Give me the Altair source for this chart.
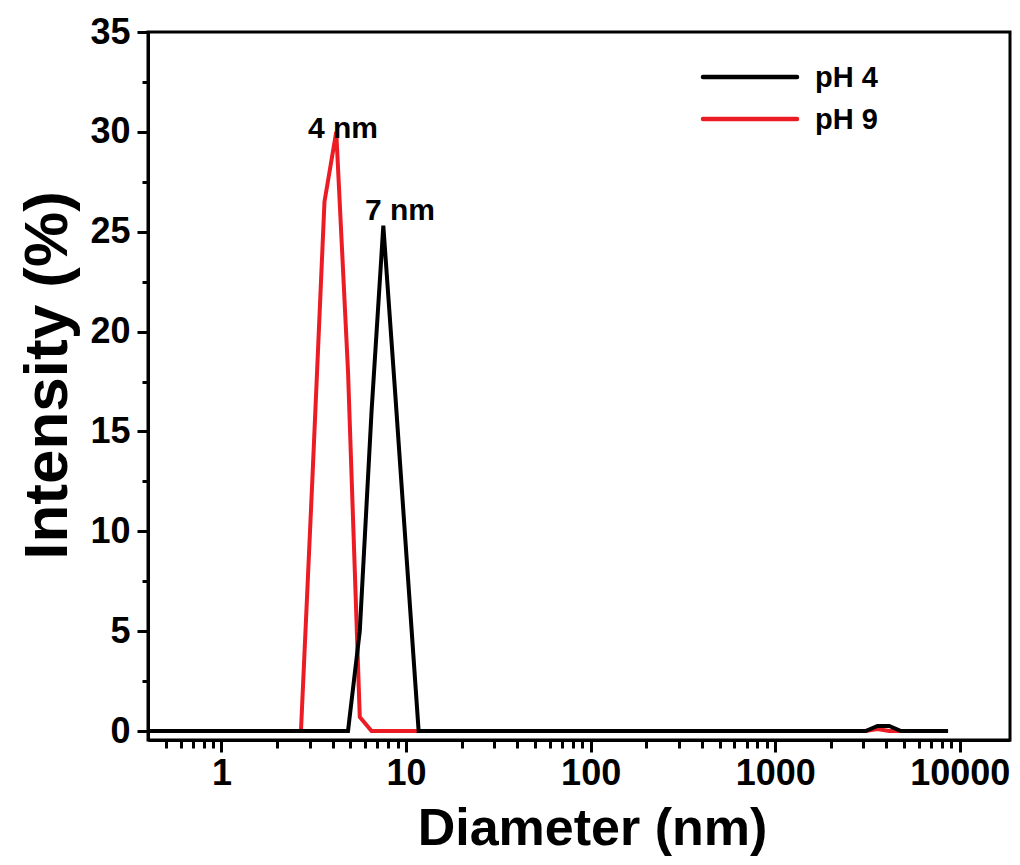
import altair as alt
import pandas as pd

FONT = "Liberation Sans"

series_names = ["pH 4", "pH 9"]
series_colors = ["#000000", "#ec1c24"]

# pH 4 (black)
ph4_diameter = [0.4, 4.849, 5.615, 6.503, 7.531, 8.721, 10.1, 11.7, 3091, 3580, 4145, 4801, 8635]
ph4_intensity = [0, 0, 5.0, 16.0, 25.3, 17.0, 8.5, 0, 0, 0.25, 0.25, 0, 0]

# pH 9 (red)
ph9_diameter = [0.4, 2.696, 3.122, 3.615, 4.187, 4.849, 5.615, 6.503, 3091, 3580, 4145, 8635]
ph9_intensity = [0, 0, 13.0, 26.5, 30.0, 18.0, 0.7, 0, 0, 0.1, 0, 0]

peak_labels = ["4 nm", "7 nm"]
peak_label_x = [4.55, 9.27]
peak_label_y = [29.7, 25.6]

x_major = [1, 10, 100, 1000, 10000]
x_minor = [0.5, 0.6, 0.7, 0.8, 0.9,
           2, 3, 4, 5, 6, 7, 8, 9,
           20, 30, 40, 50, 60, 70, 80, 90,
           200, 300, 400, 500, 600, 700, 800, 900,
           2000, 3000, 4000, 5000, 6000, 7000, 8000, 9000]
y_major = [0, 5, 10, 15, 20, 25, 30, 35]
y_minor = [2.5, 7.5, 12.5, 17.5, 22.5, 27.5, 32.5]

df4 = pd.DataFrame({"d": ph4_diameter, "i": ph4_intensity})
df9 = pd.DataFrame({"d": ph9_diameter, "i": ph9_intensity})
dflab = pd.DataFrame({"d": peak_label_x, "i": peak_label_y, "t": peak_labels})

xscale = alt.Scale(type="log", domain=[0.4, 18700], nice=False)
yscale = alt.Scale(domain=[-0.45, 35], nice=False, zero=False)

major_x_axis = alt.Axis(
    values=x_major, format="d", orient="bottom", grid=False,
    tickSize=12, tickWidth=3, tickColor="black",
    domainWidth=3, domainColor="black",
    labelFont=FONT, labelFontSize=36, labelFontWeight="bold", labelColor="black",
    labelPadding=4, labelFlush=False,
    title="Diameter (nm)", titleFont=FONT, titleFontSize=52, titleFontWeight="bold",
    titleColor="black", titleX=444, titleY=104, titleBaseline="alphabetic",
    titleAlign="center",
)
minor_x_axis = alt.Axis(
    values=x_minor, orient="bottom", grid=False, labels=False, domain=False,
    tickSize=8, tickWidth=3, tickColor="black", title=None,
)
major_y_axis = alt.Axis(
    values=y_major, format="d", orient="left", grid=False,
    tickSize=11, tickWidth=3, tickColor="black",
    domainWidth=3, domainColor="black",
    labelFont=FONT, labelFontSize=36, labelFontWeight="bold", labelColor="black",
    labelPadding=7,
    title="Intensity (%)", titleFont=FONT, titleFontSize=62, titleFontWeight="bold",
    titleColor="black", titleX=-82, titleY=343, titleBaseline="alphabetic",
    titleAlign="center", titleAngle=270,
)
minor_y_axis = alt.Axis(
    values=y_minor, orient="left", grid=False, labels=False, domain=False,
    tickSize=6, tickWidth=3, tickColor="black", title=None,
)

red_line = alt.Chart(df9).mark_line(color=series_colors[1], strokeWidth=4).encode(
    x=alt.X("d:Q", scale=xscale, axis=major_x_axis),
    y=alt.Y("i:Q", scale=yscale, axis=major_y_axis),
)
minor = alt.Chart(df9).mark_point(opacity=0).encode(
    x=alt.X("d:Q", scale=xscale, axis=minor_x_axis),
    y=alt.Y("i:Q", scale=yscale, axis=minor_y_axis),
)
black_line = alt.Chart(df4).mark_line(color=series_colors[0], strokeWidth=4).encode(
    x=alt.X("d:Q", scale=xscale, axis=None),
    y=alt.Y("i:Q", scale=yscale, axis=None),
)
labels = alt.Chart(dflab).mark_text(
    font=FONT, fontSize=30, fontWeight="bold", color="black",
    align="center", baseline="alphabetic",
).encode(
    x=alt.X("d:Q", scale=xscale, axis=None),
    y=alt.Y("i:Q", scale=yscale, axis=None),
    text="t:N",
)

legend_layers = []
legend_rows = [45, 87]
for name, color, yy in zip(series_names, series_colors, legend_rows):
    legend_layers.append(
        alt.Chart(pd.DataFrame({"s": [name]})).mark_rule(color=color, strokeWidth=4.5, strokeCap="round").encode(
            x=alt.value(555), x2=alt.value(649), y=alt.value(yy)
        )
    )
    legend_layers.append(
        alt.Chart(pd.DataFrame({"s": [name]})).mark_text(
            font=FONT, fontSize=29, fontWeight="bold", color="black",
            align="left", baseline="middle",
        ).encode(x=alt.value(667), y=alt.value(yy + 1), text="s:N")
    )

chart = alt.layer(red_line, minor, black_line, labels, *legend_layers).resolve_axis(
    x="independent", y="independent"
).properties(
    width=862, height=708,
    padding={"left": 140, "top": 24, "right": 2, "bottom": 117},
    autosize=alt.AutoSizeParams(type="none"),
    background="white",
).configure_view(stroke="black", strokeWidth=3)

chart.save("out.html", embed_options={"renderer": "svg", "actions": False})
